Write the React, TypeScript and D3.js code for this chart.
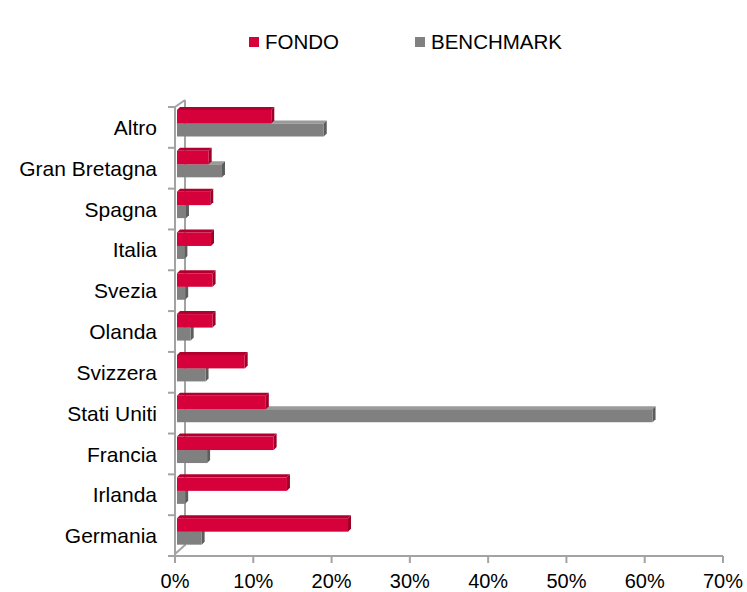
import * as d3 from 'd3';
import React from 'react';

// countries, top to bottom
const categories = ['Altro', 'Gran Bretagna', 'Spagna', 'Italia', 'Svezia', 'Olanda',
  'Svizzera', 'Stati Uniti', 'Francia', 'Irlanda', 'Germania'];
const fondo = [12.3, 4.3, 4.5, 4.6, 4.8, 4.8, 8.9, 11.6, 12.6, 14.3, 22.1];
const benchmark = [19.0, 6.0, 1.4, 1.2, 1.3, 2.0, 3.9, 61.0, 4.1, 1.3, 3.4];
const xTicks = [0, 10, 20, 30, 40, 50, 60, 70];

const seriesNames = ['FONDO', 'BENCHMARK'];

const W = 747, H = 592;
const FONT = '"Liberation Sans", Arial, sans-serif';
const AXIS = '#a3a3a3';
const D = 3; // depth of the fake 3d

const red = { front: '#d6003b', top: '#b1002f', side: '#9c0029' };
const grey = { front: '#808080', top: '#9a9a9a', side: '#5c5c5c' };

function Bar({ x0, x1, y0, y1, c }) {
  return (
    <g>
      <polygon fill={c.top} points={`${x0},${y0} ${x1},${y0} ${x1 + D},${y0 - D} ${x0 + D},${y0 - D}`} />
      <polygon fill={c.side} points={`${x1},${y0} ${x1 + D},${y0 - D} ${x1 + D},${y1 - D} ${x1},${y1}`} />
      <rect x={x0} y={y0} width={x1 - x0} height={y1 - y0} fill={c.front} />
    </g>
  );
}

export default function App() {
  const x = d3.scaleLinear().domain([0, 70]).range([175, 723]);
  const y = d3.scaleBand().domain(categories).range([107, 556]).padding(0);
  const step = y.step();
  const x0 = x(0) + 2;

  // band boundaries for ticks on the category axis
  const boundaries = d3.range(categories.length + 1).map(i => 107 + i * step);

  return (
    <svg width={W} height={H} style={{ position: 'absolute', left: 0, top: 0 }} fontFamily={FONT}>
      {/* legend */}
      <rect x={249} y={37} width={10} height={10} fill={red.front} />
      <text x={265} y={49} fontSize={20.5} fill="#000">{seriesNames[0]}</text>
      <rect x={415} y={37} width={10} height={10} fill={grey.front} />
      <text x={431} y={49} fontSize={20.5} fill="#000">{seriesNames[1]}</text>

      {/* walls */}
      <g stroke={AXIS} strokeWidth={2} fill="none">
        <line x1={x(0)} y1={107} x2={x(0)} y2={556} />
        <line x1={x(0)} y1={107} x2={x(0) + 10} y2={100} />
        <line x1={x(0) + 10} y1={100} x2={x(0) + 10} y2={546} />
        <line x1={x(0)} y1={554} x2={x(0) + 10} y2={545} />
        <line x1={168} y1={556} x2={x(70)} y2={556} />
        {boundaries.map((b, i) => (
          <line key={'b' + i} x1={168} y1={b} x2={x(0)} y2={b} />
        ))}
        {xTicks.map(t => (
          <line key={'t' + t} x1={x(t)} y1={556} x2={x(t)} y2={563} />
        ))}
      </g>

      {/* bars: grey first so red front face covers its top face */}
      {categories.map((c, i) => {
        const b = y(c);
        return (
          <g key={c}>
            <Bar x0={x0} x1={x(benchmark[i])} y0={b + 16.5} y1={b + 29.5} c={grey} />
            <Bar x0={x0} x1={x(fondo[i])} y0={b + 3} y1={b + 16.5} c={red} />
          </g>
        );
      })}

      {/* category labels */}
      {categories.map(c => (
        <text key={c} x={157} y={y(c) + step / 2} dy="0.36em" textAnchor="end" fontSize={21} fill="#000">{c}</text>
      ))}

      {/* value ticks */}
      {xTicks.map(t => (
        <text key={t} x={x(t)} y={588} textAnchor="middle" fontSize={20} fill="#000">{t + '%'}</text>
      ))}
    </svg>
  );
}
